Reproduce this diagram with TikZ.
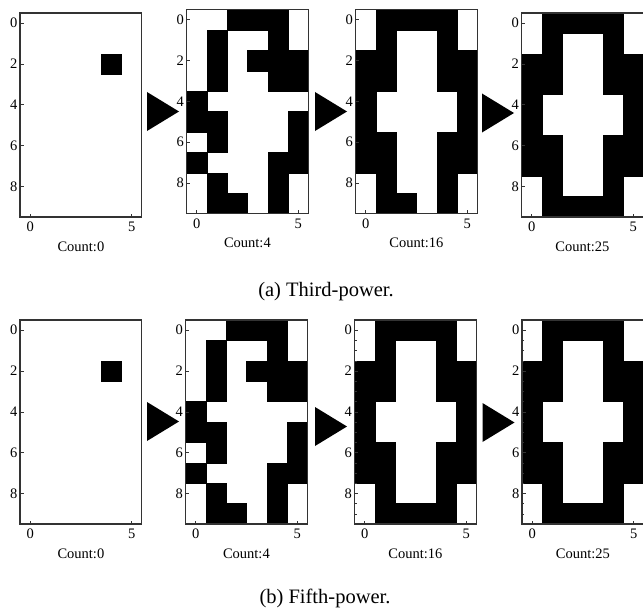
\documentclass[tikz,border=0pt]{standalone}
\usepackage{fontspec}
\setmainfont{Liberation Serif}
\usepackage{tikz}

\newcommand{\cellw}{20.3}
\newcommand{\cellh}{20.4}

% one map: #1 name, #2/#3 top left corner, #4 black cells (row/{cols}), #5 count
\newcommand{\gridpanel}[5]{%
  \foreach \r/\cs in {#4} {
    \foreach \c in \cs {
      \filldraw[blackcell] (#2+\c*\cellw, #3+\r*\cellh) rectangle ++(\cellw, \cellh);
    }
  }
  \draw[axisframe] (#2,#3) rectangle ++(6*\cellw, 10*\cellh);
  \foreach \t in {0,2,4,6,8} {
    \draw[tickmark] (#2, #3+\t*\cellh+0.5*\cellh) -- ++(3.5,0);
    \node[ticklabel, anchor=east] (#1-y\t) at (#2-1.5, #3+\t*\cellh+0.5*\cellh) {\t};
  }
  \foreach \t in {0,5} {
    \draw[tickmark] (#2+\t*\cellw+0.5*\cellw, #3+10*\cellh) -- ++(0,-3.5);
    \node[ticklabel, anchor=north] (#1-x\t) at (#2+\t*\cellw+0.5*\cellw, #3+10*\cellh+4) {\t};
  }
  \node[countlabel] (#1) at (#2+3*\cellw, #3+10*\cellh+29.5) {#5};
}

% black pointer between two maps: #1/#2 top of its base
\newcommand{\pointer}[2]{%
  \fill[black] (#1,#2) -- ++(0,39) -- ++(32,-19.5) -- cycle;
}

\begin{document}
\begin{tikzpicture}[
    x=1pt, y=-1pt,
    blackcell/.style={fill=black, draw=black, line width=0.3pt},
    axisframe/.style={draw=black!80, line width=1.1pt},
    tickmark/.style={draw=black!80, line width=0.6pt},
    minortick/.style={draw=black!80, line width=0.5pt},
    ticklabel/.style={font=\fontsize{14.5}{16}\selectfont, inner sep=1pt},
    countlabel/.style={font=\fontsize{14.5}{16}\selectfont, inner sep=1pt},
    caption/.style={font=\fontsize{20.5}{23}\selectfont, inner sep=1pt}
]
\useasboundingbox (0,0) rectangle (643,610);

% (a) third power
\gridpanel{a0}{20}{13}{2/{4}}{Count:0}
\gridpanel{a4}{186.5}{9.5}{0/{2,3,4}, 1/{1,4}, 2/{1,3,4,5}, 3/{1,4,5}, 4/{0}, 5/{0,1,5}, 6/{1,5}, 7/{0,4,5}, 8/{1,4}, 9/{1,2,4}}{Count:4}
\gridpanel{a16}{355.5}{9.5}{0/{1,2,3,4}, 1/{1,4}, 2/{0,1,4,5}, 3/{0,1,4,5}, 4/{0,5}, 5/{0,5}, 6/{0,1,4,5}, 7/{0,1,4,5}, 8/{1,4}, 9/{1,2,4}}{Count:16}
\gridpanel{a25}{521.5}{13}{0/{1,2,3,4}, 1/{1,4}, 2/{0,1,4,5}, 3/{0,1,4,5}, 4/{0,5}, 5/{0,5}, 6/{0,1,4,5}, 7/{0,1,4,5}, 8/{1,4}, 9/{1,2,3,4}}{Count:25}
\pointer{147}{92}
\pointer{315}{92}
\pointer{482}{93.5}
\node[caption] (capa) at (326,292) {(a) Third-power.};

% (b) fifth power
\gridpanel{b0}{20}{320}{2/{4}}{Count:0}
\gridpanel{b4}{185.5}{320}{0/{2,3,4}, 1/{1,4}, 2/{1,3,4,5}, 3/{1,4,5}, 4/{0}, 5/{0,1,5}, 6/{1,5}, 7/{0,4,5}, 8/{1,4}, 9/{1,2,4}}{Count:4}
\gridpanel{b16}{354.5}{320}{0/{1,2,3,4}, 1/{1,4}, 2/{0,1,4,5}, 3/{0,1,4,5}, 4/{0,5}, 5/{0,5}, 6/{0,1,4,5}, 7/{0,1,4,5}, 8/{1,4}, 9/{1,2,3,4}}{Count:16}
\gridpanel{b25}{522}{320}{0/{1,2,3,4}, 1/{1,4}, 2/{0,1,4,5}, 3/{0,1,4,5}, 4/{0,5}, 5/{0,5}, 6/{0,1,4,5}, 7/{0,1,4,5}, 8/{1,4}, 9/{1,2,3,4}}{Count:25}
\foreach \ox in {354.5,522} {
  \foreach \t in {0.5,1,...,9} {
    \draw[minortick] (\ox, 320+\t*\cellh+0.5*\cellh) -- ++(2,0);
  }
}
\pointer{147}{402}
\pointer{315}{407}
\pointer{482.5}{403}
\node[caption] (capb) at (325,598) {(b) Fifth-power.};
\end{tikzpicture}
\end{document}
